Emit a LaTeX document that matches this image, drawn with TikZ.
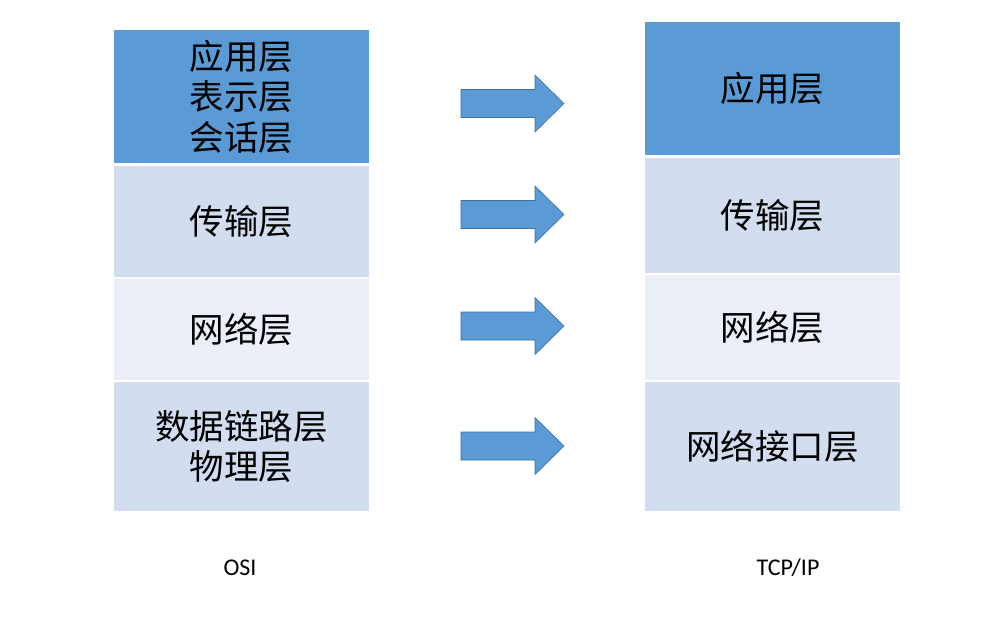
\documentclass[tikz,border=0pt]{standalone}
\usepackage{fontspec}
\setmainfont{Carlito}
\newfontfamily\cjk{Noto Sans CJK SC}
\usepackage{xcolor}
\usepackage{tikz}
\usetikzlibrary{positioning}

\definecolor{darkblue}{HTML}{5B9BD5}
\definecolor{midblue}{HTML}{D2DEEF}
\definecolor{paleblue}{HTML}{E9EEF7}
\definecolor{edgeblue}{HTML}{41719C}

\begin{document}
\begin{tikzpicture}[x=1pt, y=-1pt,
    every node/.style={inner sep=0pt, minimum width=255pt, align=center,
        font=\cjk\fontsize{34.5}{40.5}\selectfont},
    layer/.style={fill=midblue},
    toplayer/.style={fill=darkblue},
    palelayer/.style={fill=paleblue},
    blockarrow/.style={fill=darkblue, draw=edgeblue, line width=0.6pt},
    caption/.style={font=\rmfamily\fontsize{24}{28}\selectfont, minimum width=0pt}]

    \useasboundingbox (0,0) rectangle (996,619);

    % OSI
    \node[toplayer, minimum height=133pt] (osiapp) at (241.5,96.5) {应用层\\表示层\\会话层};
    \node[layer, minimum height=111pt] (ositrans) at (241.5,221.5) {传输层};
    \node[palelayer, minimum height=101pt] (osinet) at (241.5,329.5) {网络层};
    \node[layer, minimum height=129pt] (osilink) at (241.5,446.5) {数据链路层\\物理层};

    % TCP/IP
    \node[toplayer, minimum height=133pt] (tcpapp) at (772.5,88.5) {应用层};
    \node[layer, minimum height=115pt] (tcptrans) at (772.5,215.5) {传输层};
    \node[palelayer, minimum height=105pt] (tcpnet) at (772.5,327.5) {网络层};
    \node[layer, minimum height=129pt] (tcplink) at (772.5,446.5) {网络接口层};

    % frecce
    \foreach \y in {103.5,214.5,326,446}
        \draw[blockarrow] (461,\y-14) -- (535,\y-14) -- (535,\y-28.5) -- (564,\y)
            -- (535,\y+28.5) -- (535,\y+14) -- (461,\y+14) -- cycle;

    \node[caption] (osilabel) at (240,568) {OSI};
    \node[caption] (tcplabel) at (788,568) {TCP/IP};
\end{tikzpicture}
\end{document}
